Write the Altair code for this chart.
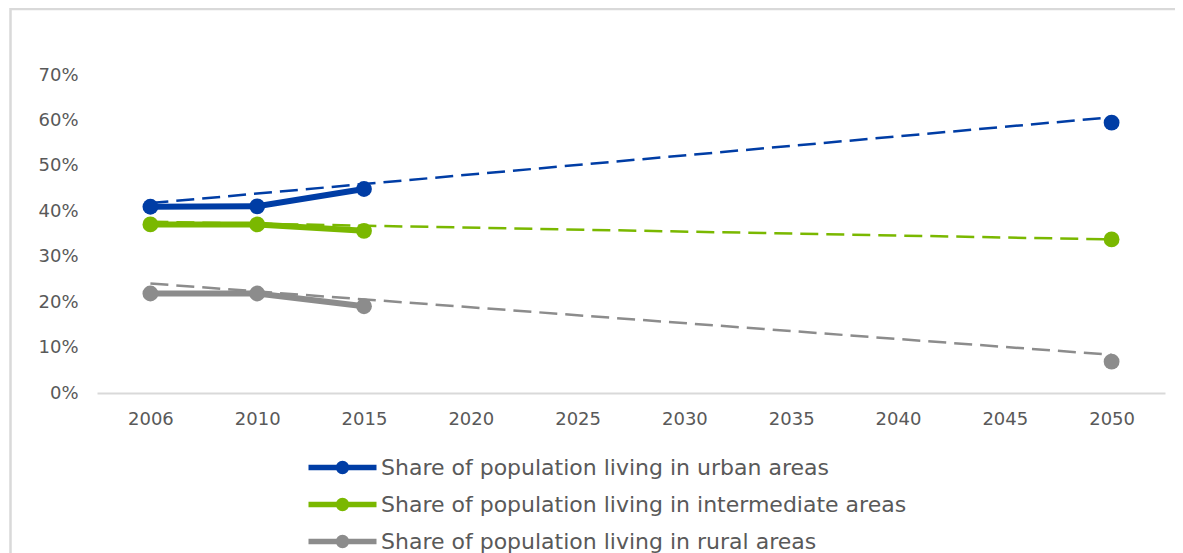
import altair as alt
import pandas as pd

# ---- data ----
years = ["2006", "2010", "2015", "2020", "2025", "2030", "2035", "2040", "2045", "2050"]
series = [
    "Share of population living in urban areas",
    "Share of population living in intermediate areas",
    "Share of population living in rural areas",
]
colors = ["#003DA5", "#7AB800", "#8C8C8C"]

obs_years = ["2006", "2010", "2015"]
urban = [0.410, 0.411, 0.449]
intermediate = [0.371, 0.371, 0.357]
rural = [0.219, 0.219, 0.191]

proj_year = "2050"
proj_values = [0.595, 0.338, 0.069]

trend_years = ["2006", "2050"]
trend_urban = [0.418, 0.607]
trend_intermediate = [0.377, 0.338]
trend_rural = [0.241, 0.084]

y_ticks = [0.0, 0.1, 0.2, 0.3, 0.4, 0.5, 0.6, 0.7]

# ---- tables ----
obs_rows = []
for name, vals in zip(series, [urban, intermediate, rural]):
    for yr, v in zip(obs_years, vals):
        obs_rows.append({"year": yr, "value": v, "series": name})
obs = pd.DataFrame(obs_rows)

pts = pd.concat(
    [obs, pd.DataFrame({"year": [proj_year] * 3, "value": proj_values, "series": series})],
    ignore_index=True,
)

trend_rows = []
for name, vals in zip(series, [trend_urban, trend_intermediate, trend_rural]):
    for yr, v in zip(trend_years, vals):
        trend_rows.append({"year": yr, "value": v, "series": name})
trend = pd.DataFrame(trend_rows)

FONT = "DejaVu Sans"
TXT = "#595959"

x_enc = alt.X(
    "year:N",
    scale=alt.Scale(type="point", domain=years, padding=0.5),
    axis=alt.Axis(
        title=None, ticks=False, grid=False, domainColor="#D9D9D9", domainWidth=2,
        labelFont=FONT, labelFontSize=18, labelColor=TXT, labelPadding=17, labelAngle=0,
    ),
)
y_enc = alt.Y(
    "value:Q",
    scale=alt.Scale(domain=[0, 0.7], nice=False),
    axis=alt.Axis(
        title=None, values=y_ticks, format=".0%", ticks=False, grid=False, domain=False,
        labelFont=FONT, labelFontSize=18, labelColor=TXT, labelPadding=19,
    ),
)
color_scale = alt.Scale(domain=series, range=colors)

legend_symbol = (
    "M-4,0L4,0"
    "M-0.47,0A0.47,0.47,0,1,1,0.47,0A0.47,0.47,0,1,1,-0.47,0"
    "M-0.15,0A0.15,0.15,0,1,1,0.15,0A0.15,0.15,0,1,1,-0.15,0"
)

frame = alt.Chart(pd.DataFrame({"k": [0]})).mark_rect(
    fill="white", fillOpacity=0, stroke="#D9D9D9", strokeWidth=2.5
).encode(
    x=alt.value(-86.5), x2=alt.value(3000), y=alt.value(-66), y2=alt.value(3000)
)

lines = alt.Chart(obs).mark_line(strokeWidth=6).encode(
    x=x_enc,
    y=y_enc,
    color=alt.Color(
        "series:N",
        scale=color_scale,
        sort=series,
        legend=alt.Legend(
            title=None, orient="none", legendX=234, legendY=381, direction="vertical",
            symbolType=legend_symbol, symbolSize=289, symbolStrokeWidth=5.5,
            labelFont=FONT, labelFontSize=22, labelColor=TXT, labelOffset=27,
            rowPadding=6, padding=0, labelLimit=0,
        ),
    ),
)

trends = alt.Chart(trend).mark_line(strokeWidth=2.5, strokeDash=[18, 8]).encode(
    x=x_enc, y=y_enc,
    color=alt.Color("series:N", scale=color_scale, legend=None),
)

points = alt.Chart(pts).mark_point(filled=True, size=250, opacity=1, shape="circle").encode(
    x=x_enc, y=y_enc,
    color=alt.Color("series:N", scale=color_scale, legend=None),
)

chart = (
    alt.layer(frame, lines, trends, points)
    .properties(
        width=1068,
        height=318,
        autosize=alt.AutoSizeParams(type="none"),
        padding={"left": 89, "top": 67, "right": 10, "bottom": 160},
        background="white",
    )
    .configure_view(stroke=None)
)

chart.save("out.html", embed_options={"renderer": "svg", "actions": False})
